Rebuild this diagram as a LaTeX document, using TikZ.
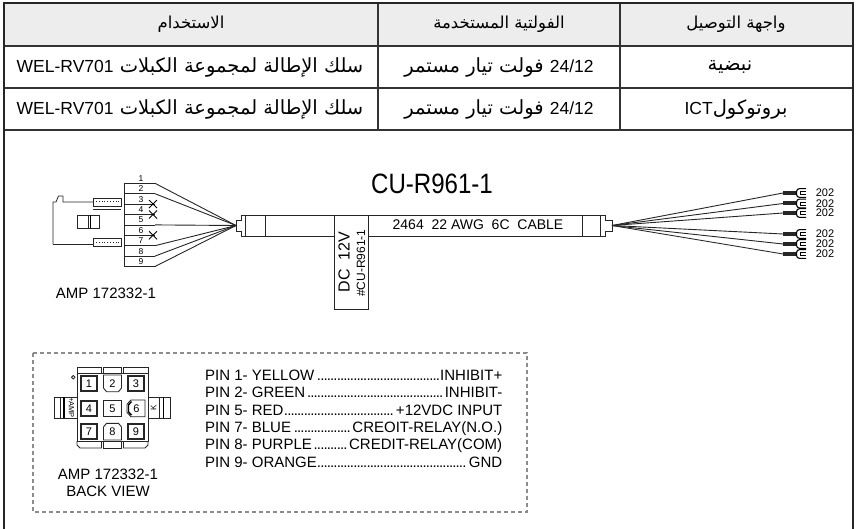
\documentclass[tikz,border=0pt]{standalone}
\usepackage{fontspec}
\usetikzlibrary{calc}
\setmainfont{Liberation Sans}
\newfontfamily\arabicfont[Script=Arabic]{DejaVu Sans}
\newfontfamily\latinfont{Liberation Sans}
\newfontfamily\condfont[FakeStretch=0.86]{Liberation Sans}
\TeXXeTstate=1
\newcommand\artext[1]{{\arabicfont\beginR #1\endR}}
\newcommand\lattext[1]{\beginL{\latinfont\fontsize{17.5}{20}\selectfont #1}\endL}
\newcommand\pinrow[2]{\hbox to 297pt{#1\leaders\hbox to 3.3pt{\hss.\hss}\hfill #2}}

\tikzset{
  frameline/.style={line width=2pt, draw=black!85},
  gridline/.style={line width=1.2pt, draw=black!80},
  headtext/.style={inner sep=0pt, font=\fontsize{16.5}{19}\selectfont},
  tabtext/.style={inner sep=0pt, font=\fontsize{19.5}{22}\selectfont},
  wire/.style={line width=0.9pt, draw=black!85},
  part/.style={line width=0.8pt, draw=black!85},
  pinno/.style={inner sep=0pt, font=\fontsize{8.5}{9}\selectfont},
  lbl/.style={inner sep=0pt, text height=10.7pt, text depth=0pt, font=\fontsize{15}{17}\selectfont},
  lugtext/.style={inner sep=0pt, text height=7.8pt, text depth=0pt, font=\fontsize{11}{12}\selectfont},
  cellno/.style={inner sep=0pt, font=\fontsize{11}{12}\selectfont},
  thickcell/.style={line width=1.8pt, draw=black!85},
  thincell/.style={line width=0.9pt, draw=black!85},
}

\begin{document}
\begin{tikzpicture}[x=1pt, y=-1pt]
\useasboundingbox (0,0) rectangle (858,529);

% table
\fill[black!7] (4,3.5) rectangle (853,46);
\draw[gridline] (4,46) -- (853,46);
\draw[gridline] (4,88) -- (853,88);
\draw[gridline] (4,130) -- (853,130);
\draw[gridline] (378,3.5) -- (378,130);
\draw[gridline] (620,3.5) -- (620,130);
\draw[frameline] (4,540) -- (4,3.5) -- (853,3.5) -- (853,540);

\node[headtext] (hdUse) at (191,24.5) {\artext{الاستخدام}};
\node[headtext] (hdVolt) at (499,24.5) {\artext{الفولتية المستخدمة}};
\node[headtext] (hdPort) at (736,24.5) {\artext{واجهة التوصيل}};
\node[tabtext] (use1) at (190,67) {\artext{سلك الإطالة لمجموعة الكبلات \lattext{WEL-RV701}}};
\node[tabtext] (volt1) at (499,67) {\artext{\lattext{24/12} فولت تيار مستمر}};
\node[tabtext] (port1) at (730,67) {\artext{نبضية}};
\node[tabtext] (use2) at (190,109) {\artext{سلك الإطالة لمجموعة الكبلات \lattext{WEL-RV701}}};
\node[tabtext] (volt2) at (499,109) {\artext{\lattext{24/12} فولت تيار مستمر}};
\node[tabtext] (port2) at (736,109) {\artext{بروتوكول\lattext{ICT}}};

% cable title
\node[inner sep=0pt, font=\condfont\fontsize{28}{30}\selectfont] (title) at (432,184) {CU-R961-1};

% AMP housing, side view
\draw[part] (53,244) -- (53,202) -- (56,202) -- (58.5,196) -- (63,196) -- (63,202) -- (93,202);
\draw[part] (53,244) -- (93,244);
\draw[part] (93,198) rectangle (121,206);
\draw[part, dotted] (96,201) -- (119,201);
\draw[part] (93,209) -- (121,209);
\draw[part] (93,238) rectangle (121,246);
\draw[part, dotted] (96,242) -- (119,242);
\draw[part] (77,215) rectangle (99,228);
\draw[part] (88,215) -- (88,228);
\draw[line width=1.6pt] (90.5,215) -- (90.5,228);

% pin block
\coordinate (hubL) at (236,225.5);
\draw[part] (124,183.3) -- (124,266.5);
\foreach \k in {1,...,9} {
  \coordinate (pin\k) at (155,183.3+10.4*\k-10.4);
  \draw[part] (124,183.3+10.4*\k-10.4) -- (pin\k);
  \node[pinno] (no\k) at (141,183.3+10.4*\k-10.4-4.8) {\k};
}
\foreach \k in {1,2,5,7,8,9} {
  \draw[wire] (pin\k) -- (hubL);
}
\foreach \k in {3,4,6} {
  \draw[line width=0.9pt] ($(pin\k)+(-6,-4)$) -- ($(pin\k)+(2,4)$);
  \draw[line width=0.9pt] ($(pin\k)+(-6,4)$) -- ($(pin\k)+(2,-4)$);
}
\node[lbl] (ampSide) at (106,293) {AMP 172332-1};

% cable
\draw[part] (245,215) -- (241,215) -- (241,220) -- (236,220) -- (236,231) -- (241,231) -- (241,236) -- (245,236);
\draw[part] (245,215) rectangle (600,236);
\draw[part] (265,215) -- (265,236);
\draw[part] (582,215) -- (582,236);
\draw[part] (600,215) -- (605,215) -- (605,220) -- (612,220) -- (612,231) -- (605,231) -- (605,236) -- (600,236);
\coordinate (hubR) at (612,225.5);
\node[inner sep=0pt, font=\fontsize{14}{16}\selectfont] (awg) at (478,225) {2464\ \ 22 AWG\ \ 6C\ \ CABLE};

% tag
\draw[part, fill=white] (334,215) rectangle (368,309);
\node[inner sep=0pt, rotate=90, font=\fontsize{16}{18}\selectfont] (dc) at (344,262) {DC\ \ 12V};
\node[inner sep=0pt, rotate=90, font=\fontsize{12}{14}\selectfont] (tagno) at (361,263) {\#CU-R961-1};

% ring terminals
\foreach \t [count=\i] in {193,203.5,213,234,244,254} {
  \coordinate (lug\i) at (783,\t);
  \draw[wire] (hubR) -- (lug\i);
  \fill[black!85] (783,\t-2) rectangle (796,\t+2);
  \draw[line width=1.1pt, rounded corners=3pt] (806,\t-4.4) -- (796.5,\t-4.4) -- (796.5,\t+4.4) -- (806,\t+4.4);
  \draw[line width=0.8pt] (806,\t-1.5) -- (800,\t-1.5) -- (800,\t+1.5) -- (806,\t+1.5);
  \node[lugtext] (ohm\i) at (825,\t) {202};
}

% back view box
\draw[line width=1.5pt, black!45, dash pattern=on 4pt off 3pt] (33,353) rectangle (527,512);

% housing, back view
\draw[part] (77,373) rectangle (148,441);
\draw[part] (77,373) -- (77,367) -- (101.5,367) -- (101.5,373);
\draw[part] (103.5,373) -- (103.5,367) -- (121.5,367) -- (121.5,373);
\draw[part] (123.5,373) -- (123.5,367) -- (148,367) -- (148,373);
\draw[part] (77,441) -- (77,445) -- (80,448) -- (101.5,448) -- (101.5,441);
\draw[part] (103.5,441) -- (103.5,448) -- (121.5,448) -- (121.5,441);
\draw[part] (123.5,441) -- (123.5,448) -- (145,448) -- (148,445) -- (148,441);
\draw[part] (73.3,377.3) circle (1.8);
\draw[part] (54,397) rectangle (77,418);
\draw[part] (60,397) -- (60,418);
\draw[line width=1.4pt] (64,397) -- (64,418);
\draw[part] (148,397) rectangle (170,418);
\draw[part] (159,397) -- (159,418);
\draw[line width=1.4pt] (163.5,397) -- (163.5,418);
\node[inner sep=0pt, rotate=-90, font=\fontsize{7.5}{8}\selectfont] (ampMark) at (71.5,407.5) {+AMP};
\node[inner sep=0pt, rotate=90, font=\fontsize{8}{9}\selectfont] (kMark) at (153.5,407.5) {K};

\foreach \n/\cx/\cy in {1/89/383.5, 3/136/383.5, 4/89/408.3, 7/89/431.7, 9/136/431.7} {
  \draw[thickcell] (\cx-8.2,\cy-7.4) rectangle (\cx+8.2,\cy+7.4);
  \node[cellno] (c\n) at (\cx,\cy) {\n};
}
\draw[thincell] (103.5,375) -- (121.5,375) -- (121.5,388) -- (118.5,391.7) -- (106.5,391.7) -- (103.5,388) -- cycle;
\node[cellno] (c2) at (112.5,383.5) {2};
\draw[thincell] (103.5,400) rectangle (121.5,416.7);
\node[cellno] (c5) at (112.5,408.3) {5};
\draw[thincell] (103.5,427) -- (106.5,423.3) -- (118.5,423.3) -- (121.5,427) -- (121.5,440) -- (103.5,440) -- cycle;
\node[cellno] (c8) at (112.5,431.7) {8};
\draw[thincell] (131,400) -- (145,400) -- (145,416.7) -- (131,416.7) -- (127,412.5) -- (127,404.2) -- cycle;
\draw[line width=1.4pt] (131.5,401.5) -- (128.5,405) -- (128.5,411.7) -- (131.5,415.2);
\node[cellno] (c6) at (136.5,408.3) {6};

\node[lbl] (ampBack) at (108,474) {AMP 172332-1};
\node[lbl] (backView) at (108,491) {BACK VIEW};

% pin list
\foreach \lft/\rgt [count=\i] in {{PIN 1- YELLOW}/{INHIBIT+}, {PIN 2- GREEN}/{INHIBIT-}, {PIN 5- RED}/{+12VDC INPUT}, {PIN 7- BLUE}/{CREOIT-RELAY(N.O.)}, {PIN 8- PURPLE}/{CREDIT-RELAY(COM)}, {PIN 9- ORANGE}/{GND}} {
  \node[lbl, anchor=west] (pinline\i) at (205,375+17.4*\i-17.4) {\pinrow{\lft}{\rgt}};
}
\end{tikzpicture}
\end{document}
